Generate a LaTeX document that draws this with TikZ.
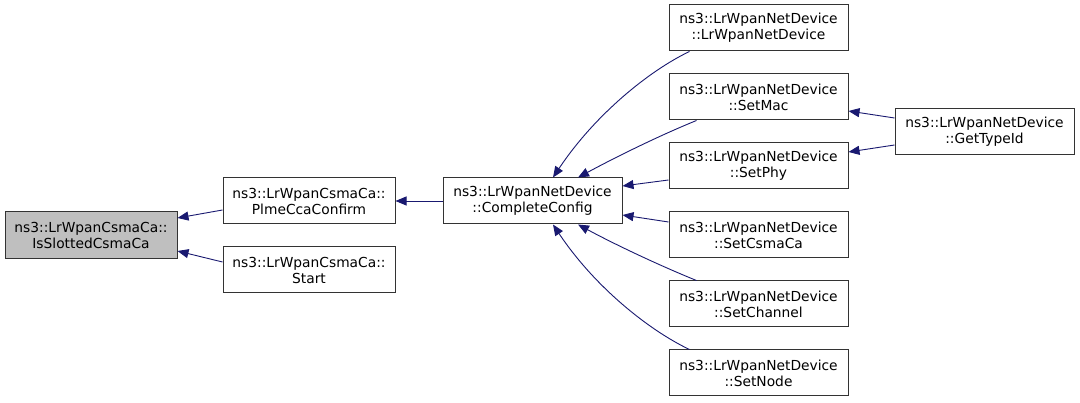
\documentclass[tikz,border=0pt]{standalone}
\usepackage{fontspec}
\setmainfont{DejaVu Sans}
\usetikzlibrary{arrows.meta,calc}
\definecolor{edgec}{HTML}{191970}
\begin{document}
\begin{tikzpicture}[x=1pt,y=-1pt,
 fn/.style={draw=black!80, line width=1pt, fill=white, minimum width=179pt, minimum height=46pt, inner sep=0pt, align=center, font=\fontsize{13.8}{16}\selectfont},
 fnn/.style={fn, minimum width=172pt},
 cur/.style={fn, fill=black!25, minimum width=172pt, minimum height=47pt},
 call/.style={draw=edgec, line width=0.9pt, -{Triangle[length=11pt,width=9pt]}}
]
\useasboundingbox[fill=white] (0,0) rectangle (1080,403);
\node[cur] (slot) at (91,235.5) {ns3::LrWpanCsmaCa::\\IsSlottedCsmaCa};
\node[fnn] (plme) at (309,201) {ns3::LrWpanCsmaCa::\\PlmeCcaConfirm};
\node[fnn] (start) at (309,270) {ns3::LrWpanCsmaCa::\\Start};
\node[fn] (cc) at (532.5,201) {ns3::LrWpanNetDevice\\::CompleteConfig};
\node[fn] (ctor) at (758.5,28) {ns3::LrWpanNetDevice\\::LrWpanNetDevice};
\node[fn] (mac) at (758.5,97) {ns3::LrWpanNetDevice\\::SetMac};
\node[fn] (phy) at (758.5,166) {ns3::LrWpanNetDevice\\::SetPhy};
\node[fn] (csma) at (758.5,235) {ns3::LrWpanNetDevice\\::SetCsmaCa};
\node[fn] (chan) at (758.5,304) {ns3::LrWpanNetDevice\\::SetChannel};
\node[fn] (nd) at (758.5,373) {ns3::LrWpanNetDevice\\::SetNode};
\node[fn] (gti) at (984.5,132) {ns3::LrWpanNetDevice\\::GetTypeId};

\draw[call] ($(plme.west)+(0,9)$) -- ($(slot.east)+(0,-17.5)$);
\draw[call] ($(start.west)+(0,-8)$) -- ($(slot.east)+(0,15.5)$);
\draw[call] (cc.west) -- (plme.east);
\draw[call] ($(ctor.south west)+(21,0)$) .. controls ($(ctor.south west)+(-19,19)$) and ($(cc.north)+(62.5,-63)$) .. ($(cc.north)+(20.5,0)$);
\draw[call] ($(mac.south west)+(28,0)$) .. controls ($(mac.south west)+(-9,15)$) and ($(cc.north)+(82.5,-20)$) .. ($(cc.north)+(45.5,0)$);
\draw[call] ($(phy.west)+(0,14)$) -- ($(cc.east)+(0,-15)$);
\draw[call] ($(csma.west)+(0,-13)$) -- ($(cc.east)+(0,14)$);
\draw[call] ($(chan.north west)+(28,0)$) .. controls ($(chan.north west)+(-9,-15)$) and ($(cc.south)+(82.5,20)$) .. ($(cc.south)+(45.5,0)$);
\draw[call] ($(nd.north west)+(21,0)$) .. controls ($(nd.north west)+(-19,-19)$) and ($(cc.south)+(62.5,63)$) .. ($(cc.south)+(20.5,0)$);
\draw[call] ($(gti.west)+(0,-14)$) -- ($(mac.east)+(0,14)$);
\draw[call] ($(gti.west)+(0,13)$) -- ($(phy.east)+(0,-14)$);
\end{tikzpicture}
\end{document}
